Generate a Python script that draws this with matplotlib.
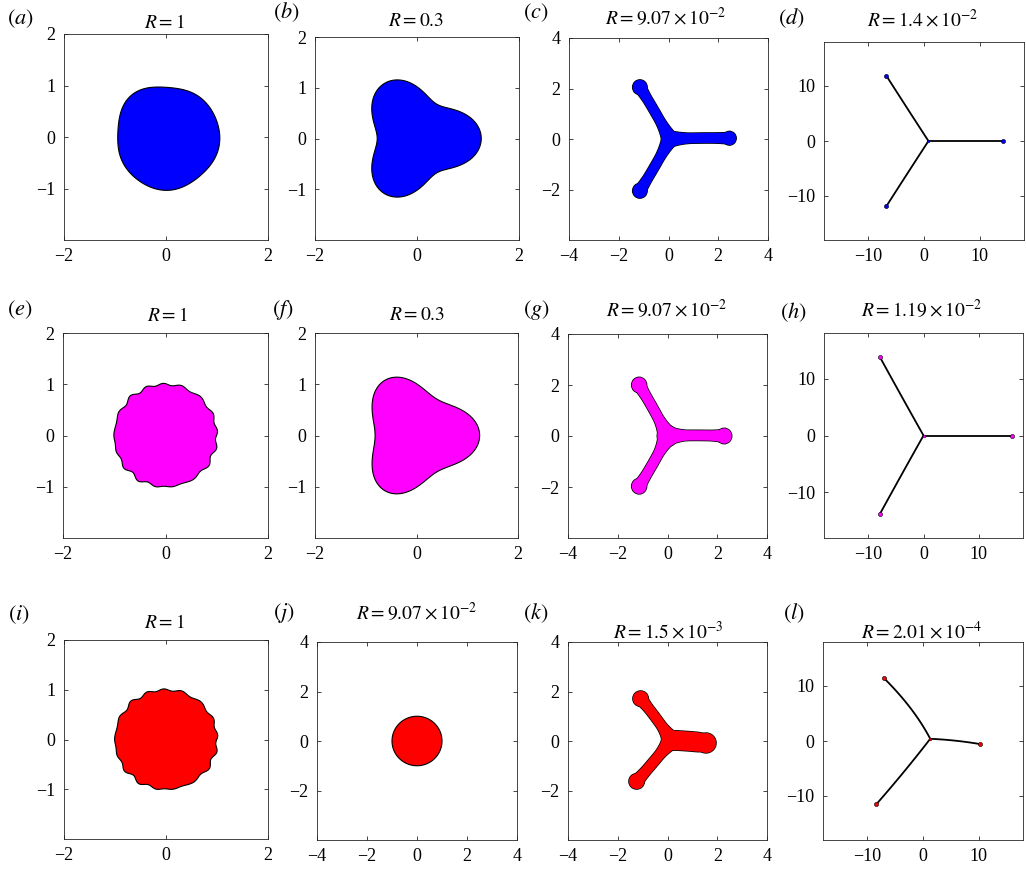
"""
Three-row grid of bubble contours for decreasing R (blue / magenta / red runs).
Saves out.png at 1026x869.
"""

import numpy as np
import matplotlib
matplotlib.use("Agg")
import matplotlib.pyplot as plt
from matplotlib.patches import Circle, Polygon


# ---------- Figure ----------
DPI = 100
FIG_W, FIG_H = 1026, 869

BLUE = "#0000ff"
MAGENTA = "#ff00ff"
RED = "#ff0000"

plt.rcParams.update({
    "font.family": "serif",
    "font.serif": ["Liberation Serif", "DejaVu Serif"],
    "mathtext.fontset": "stix",
    "axes.linewidth": 0.6,
    "axes.edgecolor": "#262626",
})

# ---------- Panel text ----------
LETTERS = ["a", "b", "c", "d", "e", "f", "g", "h", "i", "j", "k", "l"]
TITLES = [
    r"$R = 1$", r"$R = 0.3$", r"$R = 9.07\times10^{-2}$", r"$R = 1.4\times10^{-2}$",
    r"$R = 1$", r"$R = 0.3$", r"$R = 9.07\times10^{-2}$", r"$R = 1.19\times10^{-2}$",
    r"$R = 1$", r"$R = 9.07\times10^{-2}$", r"$R = 1.5\times10^{-3}$", r"$R = 2.01\times10^{-4}$",
]
HALF_RANGE = [2, 2, 4, 18, 2, 2, 4, 18, 2, 4, 4, 18]

# axes boxes in pixels: left, top, right, bottom
BOXES = [
    (64, 34, 268, 240), (315, 37, 519, 240), (569, 38, 768, 240), (824, 42, 1024, 240),
    (63, 333, 268, 538), (315, 333, 518, 538), (568, 334, 767, 538), (824, 333, 1023, 538),
    (64, 640, 268, 839), (317, 642, 517, 840), (568, 642, 767, 840), (823, 642, 1023, 840),
]
# title centre (x, y) and panel-label left/centre (x, y), pixels
TITLE_XY = [(164, 23), (416, 22), (666, 18), (923, 20),
            (167, 316), (417, 315), (667, 310), (922, 310),
            (164, 623), (417, 613), (668, 632), (922, 632)]
LABEL_XY = [(7, 19), (273, 12), (523, 13), (778, 18),
            (7, 310), (272, 310), (523, 310), (780, 312),
            (8, 615), (273, 613), (523, 613), (783, 613)]

# ---------- Smooth contours: r = r0 (1 + sum a cos(m (theta - phase))) ----------
A_R0, A_MODES, A_AMPS, A_PHASE = 1.01, [1, 2, 3, 4, 5], [0.025, 0.012, 0.03, 0.01, 0.014], [-10, 135, 12, 40, 130]
B_R0, B_MODES, B_AMPS, B_PHASE = 1.02, [3], [0.235], [0]
F_R0, F_MODES, F_AMPS, F_PHASE = 1.02, [3, 6], [0.21, 0.01], [0, 0]
E_R0, E_MODES, E_AMPS, E_PHASE = 1.0, [13, 17, 20], [0.010, 0.020, 0.009], [20, 6, 40]
J_R0, J_MODES, J_AMPS, J_PHASE = 1.0, [], [], []

# ---------- Three-armed contours ----------
# root of the arms, bezier control point, tip-bulb centre, tip radius, arm width
C_ROOT = (0.05, 0.0)
C_CTRL = [(1.2, 0.06), (-0.5, 1.05), (-0.5, -1.05)]
C_TIPS = [(2.45, 0.03), (-1.15, 2.05), (-1.15, -2.05)]
C_TIP_R = [0.27, 0.29, 0.29]
C_WIDTH = [0.4, 0.38, 0.38]
C_BASE = 0.66

G_ROOT = (0.0, 0.0)
G_CTRL = [(1.1, 0.05), (-0.5, 1.0), (-0.5, -1.0)]
G_TIPS = [(2.28, 0.0), (-1.14, 2.0), (-1.14, -1.97)]
G_TIP_R = [0.3, 0.3, 0.3]
G_WIDTH = [0.4, 0.4, 0.4]
G_BASE = 0.82

K_ROOT = (0.15, 0.03)
K_CTRL = [(0.9, 0.0), (-0.4, 0.9), (-0.5, -0.8)]
K_TIPS = [(1.55, -0.08), (-1.08, 1.71), (-1.24, -1.63)]
K_TIP_R = [0.4, 0.31, 0.31]
K_WIDTH = [0.78, 0.4, 0.42]
K_BASE = 0.78

# ---------- Needle contours (arms thinner than a line) ----------
D_ROOT = (0.8, 0.0)
D_CTRL = [(7.5, 0.0), (-3.0, 5.9), (-3.0, -5.9)]
D_TIPS = [(14.2, 0.0), (-6.8, 11.9), (-6.8, -11.9)]

H_ROOT = (0.0, 0.0)
H_CTRL = [(8.0, 0.0), (-4.0, 6.9), (-4.0, -6.9)]
H_TIPS = [(16.0, 0.0), (-7.9, 13.8), (-7.9, -13.8)]

L_ROOT = (1.3, 0.4)
L_CTRL = [(5.8, 0.2), (-1.6, 6.0), (-3.2, -5.5)]
L_TIPS = [(10.2, -0.55), (-7.1, 11.5), (-8.4, -11.5)]


# ---------- Helpers ----------
def polar_outline(r0, modes, amps, phases, n=900):
    t = np.linspace(0, 2 * np.pi, n)
    r = np.ones_like(t)
    for m, a, p in zip(modes, amps, phases):
        r += a * np.cos(m * (t - np.deg2rad(p)))
    r *= r0
    return r * np.cos(t), r * np.sin(t)


def bezier(p0, p1, p2, n=80):
    t = np.linspace(0, 1, n)[:, None]
    p0, p1, p2 = (np.asarray(p, float) for p in (p0, p1, p2))
    return (1 - t) ** 2 * p0 + 2 * t * (1 - t) * p1 + t ** 2 * p2, t.ravel()


def arm_polygon(root, ctrl, tip, base_w, w, tip_r):
    pts, t = bezier(root, ctrl, tip)
    d = np.gradient(pts, axis=0)
    d /= np.hypot(d[:, 0], d[:, 1])[:, None]
    nrm = np.column_stack([-d[:, 1], d[:, 0]])
    s = np.clip(t / 0.4, 0, 1)
    half = 0.5 * (w + (base_w - w) * (1 - s) ** 2)
    g = np.clip((t - 0.7) / 0.3, 0, 1)
    half = half + (0.85 * tip_r - 0.5 * w) * g ** 2
    left = pts + nrm * half[:, None]
    right = pts - nrm * half[:, None]
    return np.vstack([left, right[::-1]])


def draw_blob(ax, x, y, color):
    ax.fill(x, y, facecolor=color, edgecolor="black", linewidth=0.8, zorder=3)


def draw_arms(ax, root, ctrls, tips, tip_r, widths, base_w, color):
    edge = 1.1  # points; half of it shows outside the fill
    for fc, ec, lw, z in (("black", "black", edge, 3), (color, "none", 0.0, 4)):
        for c, tip, rt, w in zip(ctrls, tips, tip_r, widths):
            ax.add_patch(Polygon(arm_polygon(root, c, tip, base_w, w, rt), closed=True,
                                 facecolor=fc, edgecolor=ec, linewidth=lw, zorder=z))
            ax.add_patch(Circle(tip, rt, facecolor=fc, edgecolor=ec,
                                linewidth=lw, zorder=z))
        ax.add_patch(Circle(root, 0.5 * base_w, facecolor=fc, edgecolor=ec,
                            linewidth=lw, zorder=z))


def draw_needles(ax, root, ctrls, tips, color):
    for c, tip in zip(ctrls, tips):
        pts, _ = bezier(root, c, tip)
        ax.plot(pts[:, 0], pts[:, 1], color="black", linewidth=1.3,
                solid_capstyle="round", zorder=3)
    tx = [p[0] for p in tips]
    ty = [p[1] for p in tips]
    ax.plot(tx, ty, linestyle="none", marker="o", markersize=3.0,
            markerfacecolor=color, markeredgecolor="black",
            markeredgewidth=0.4, zorder=4)
    ax.plot([root[0]], [root[1]], linestyle="none", marker="o", markersize=2.0,
            markerfacecolor=color, markeredgecolor="black",
            markeredgewidth=0.3, zorder=4)


def style_axes(ax, lim):
    ax.set_xlim(-lim, lim)
    ax.set_ylim(-lim, lim)
    if lim == 2:
        ax.set_xticks([-2, 0, 2])
        ax.set_yticks([-1, 0, 1, 2])
    elif lim == 4:
        ax.set_xticks([-4, -2, 0, 2, 4])
        ax.set_yticks([-2, 0, 2, 4])
    else:
        ax.set_xticks([-10, 0, 10])
        ax.set_yticks([-10, 0, 10])
    ax.tick_params(direction="in", length=3, width=0.6, top=True, right=True,
                   labelsize=13, pad=6, colors="#262626", labelcolor="black")


# ---------- Build ----------
fig = plt.figure(figsize=(FIG_W / DPI, FIG_H / DPI), dpi=DPI)

axes = []
for (l, t, r, b) in BOXES:
    ax = fig.add_axes([l / FIG_W, 1 - b / FIG_H, (r - l) / FIG_W, (b - t) / FIG_H])
    axes.append(ax)

for i, ax in enumerate(axes):
    style_axes(ax, HALF_RANGE[i])

draw_blob(axes[0], *polar_outline(A_R0, A_MODES, A_AMPS, A_PHASE), BLUE)
draw_blob(axes[1], *polar_outline(B_R0, B_MODES, B_AMPS, B_PHASE), BLUE)
draw_arms(axes[2], C_ROOT, C_CTRL, C_TIPS, C_TIP_R, C_WIDTH, C_BASE, BLUE)
draw_needles(axes[3], D_ROOT, D_CTRL, D_TIPS, BLUE)

draw_blob(axes[4], *polar_outline(E_R0, E_MODES, E_AMPS, E_PHASE), MAGENTA)
draw_blob(axes[5], *polar_outline(F_R0, F_MODES, F_AMPS, F_PHASE), MAGENTA)
draw_arms(axes[6], G_ROOT, G_CTRL, G_TIPS, G_TIP_R, G_WIDTH, G_BASE, MAGENTA)
draw_needles(axes[7], H_ROOT, H_CTRL, H_TIPS, MAGENTA)

draw_blob(axes[8], *polar_outline(E_R0, E_MODES, E_AMPS, E_PHASE), RED)
draw_blob(axes[9], *polar_outline(J_R0, J_MODES, J_AMPS, J_PHASE), RED)
draw_arms(axes[10], K_ROOT, K_CTRL, K_TIPS, K_TIP_R, K_WIDTH, K_BASE, RED)
draw_needles(axes[11], L_ROOT, L_CTRL, L_TIPS, RED)

for i in range(12):
    tx, ty = TITLE_XY[i]
    fig.text(tx / FIG_W, 1 - ty / FIG_H, TITLES[i], ha="center", va="center",
             fontsize=14)
    lx, ly = LABEL_XY[i]
    fig.text(lx / FIG_W, 1 - ly / FIG_H, rf"$({LETTERS[i]})$", ha="left",
             va="center", fontsize=16)

fig.savefig("out.png", dpi=DPI)
